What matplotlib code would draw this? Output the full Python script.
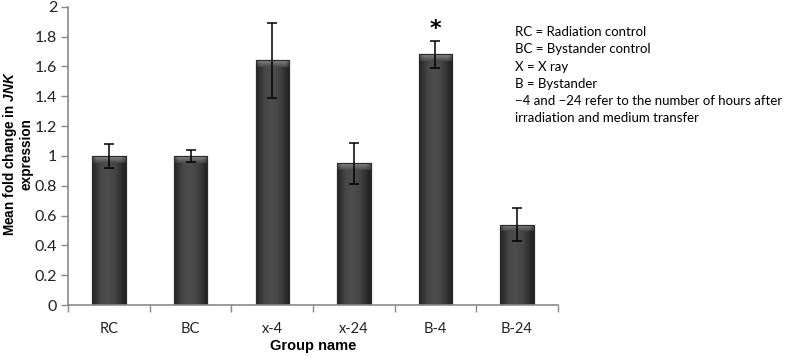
import matplotlib
matplotlib.use("Agg")
import matplotlib.pyplot as plt
import numpy as np

groups = ["RC", "BC", "x-4", "x-24", "B-4", "B-24"]
means = [1.00, 1.00, 1.64, 0.95, 1.68, 0.54]
errors = [0.08, 0.04, 0.25, 0.14, 0.09, 0.11]
star_group = "B-4"
star_y = 1.85
notes = ["RC = Radiation control",
         "BC = Bystander control",
         "X = X ray",
         "B = Bystander",
         "\u22124 and \u221224 refer to the number of hours after",
         "irradiation and medium transfer"]

plt.rcParams["mathtext.fontset"] = "custom"
plt.rcParams["mathtext.bfit"] = "Liberation Sans:italic:bold"
plt.rcParams["mathtext.it"] = "Liberation Sans:italic"
plt.rcParams["mathtext.bf"] = "Liberation Sans:bold"
plt.rcParams["mathtext.rm"] = "Liberation Sans"

fig = plt.figure(figsize=(7.87, 3.56), dpi=100)
ax = fig.add_axes([0.0868, 0.143, 0.622, 0.838])

x = np.arange(len(groups))
W = 0.41
bars = ax.bar(x, means, width=W, color="#3e3e3e", edgecolor="#2a2a2a",
              linewidth=0.8, zorder=2)

# soft shading across each bar, light bevel along the top
shade = np.array([0.16, 0.22, 0.27, 0.29, 0.30, 0.29, 0.27, 0.24, 0.19, 0.14])
for b, m in zip(bars, means):
    x0 = b.get_x()
    img = np.tile(shade, (2, 1))
    im = ax.imshow(img, cmap="gray", vmin=0, vmax=1, aspect="auto",
                   extent=(x0, x0 + W, 0, m), zorder=2.1,
                   interpolation="bilinear")
    im.set_clip_path(b)
    bev = 0.045
    top = np.linspace(0.52, 0.30, 6)[:, None] * np.ones((1, 10))
    top[:, 0] *= 0.75
    top[:, -1] *= 0.75
    im2 = ax.imshow(top, cmap="gray", vmin=0, vmax=1, aspect="auto",
                    extent=(x0, x0 + W, m - bev, m), zorder=2.2,
                    interpolation="bilinear")
    im2.set_clip_path(b)
    ax.bar(b.get_x() + W / 2, m, width=W, fill=False, edgecolor="#2a2a2a",
           linewidth=0.8, zorder=2.3)

ax.errorbar(x, means, yerr=errors, fmt="none", ecolor="black",
            elinewidth=1.1, capsize=3.5, capthick=1.1, zorder=3)

si = groups.index(star_group)
ax.text(x[si], star_y, "*", ha="center", va="center", fontsize=16,
        fontweight="bold", color="black")

ax.set_xlim(-0.5, len(groups) - 0.5)
ax.set_ylim(0, 2)
ax.set_yticks(np.arange(0, 2.01, 0.2))
ax.set_yticklabels(["0", "0.2", "0.4", "0.6", "0.8", "1", "1.2", "1.4",
                    "1.6", "1.8", "2"], family="Lato")
ax.set_xticks(x)
ax.set_xticklabels(groups, family="Lato")
ax.set_xticks(np.arange(-0.5, len(groups), 1.0), minor=True)
ax.tick_params(axis="x", which="major", length=0, pad=12, labelsize=10.5,
               colors="#222222")
ax.tick_params(axis="x", which="minor", length=5, direction="out",
               color="#888888", width=1)
ax.tick_params(axis="y", length=5, direction="out", color="#888888",
               width=1, labelsize=11.5, labelcolor="#222222", pad=3)
for s in ("top", "right"):
    ax.spines[s].set_visible(False)
for s in ("left", "bottom"):
    ax.spines[s].set_color("#8a8a8a")
    ax.spines[s].set_linewidth(1.2)

ax.set_xlabel("Group name", fontsize=10.5, fontweight="bold",
              family="Liberation Sans", labelpad=2)
fig.text(17 / 787, 1 - 154 / 356,
         "Mean fold change in $\\mathbfit{JNK}$\nexpression",
         fontsize=9.8, fontweight="bold", family="Liberation Sans",
         rotation=90, ha="center", va="center", multialignment="center",
         linespacing=1.05)

for i, line in enumerate(notes):
    fig.text(0.654, 1 - (32 + i * 17.3) / 356, line, fontsize=9.5,
             family="Lato", va="center", ha="left", color="black")

fig.savefig("out.png", dpi=100, facecolor="white")
